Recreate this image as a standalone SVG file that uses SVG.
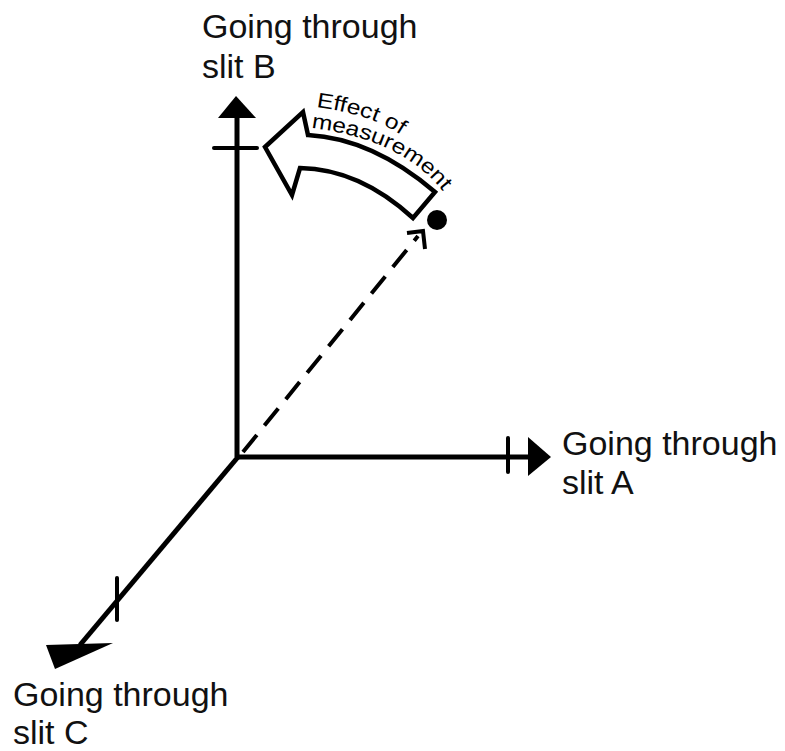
<svg xmlns="http://www.w3.org/2000/svg" width="785" height="751" viewBox="0 0 785 751">
<style>
.ax{stroke:#000;stroke-width:5;fill:none;stroke-linecap:butt}
.tk{stroke:#000;stroke-width:4;fill:none;stroke-linecap:round}
.lbl{font-family:"Liberation Sans",Arial,sans-serif;font-size:34px;fill:#111}
.eff{font-family:"Liberation Sans",Arial,sans-serif;font-size:21px;fill:#000}
</style>
<rect width="785" height="751" fill="#fff"/>
<g id="connectors">
  <line class="ax" x1="237" y1="457" x2="237" y2="115"/>
  <polygon points="236,96 218,118 256,118" fill="#000"/>
  <line class="tk" x1="214" y1="148" x2="257" y2="148"/>
  <line class="ax" x1="235" y1="457" x2="530" y2="457"/>
  <polygon points="528,437 551,457 528,476" fill="#000"/>
  <line class="tk" x1="508" y1="438" x2="508" y2="472"/>
  <line class="ax" x1="238" y1="457" x2="80" y2="645"/>
  <polygon points="46,645 113,643 55,669" fill="#000"/>
  <line class="tk" x1="117" y1="578" x2="117" y2="620"/>
  <line x1="243" y1="452" x2="418" y2="236" stroke="#000" stroke-width="4" stroke-dasharray="22 12"/>
  <polyline points="407,233 423,231 425,249" fill="none" stroke="#000" stroke-width="4" stroke-linejoin="miter"/>
</g>
<g id="point">
  <circle cx="437" cy="220" r="10" fill="#000"/>
</g>
<g id="measurement-arrow">
  <path d="M265,147 L303,112 L308,135 Q372.5,138.5 435,192 L413,218 Q359.5,169 300,168 L292,195 Z" fill="#fff" stroke="#000" stroke-width="4.5" stroke-linejoin="miter"/>
  <path id="p1" d="M316,107 Q370,114 401,135" fill="none"/>
  <path id="p2" d="M311,128 Q400,139 441,189" fill="none"/>
  <text class="eff"><textPath href="#p1" textLength="90" lengthAdjust="spacingAndGlyphs">Effect of</textPath></text>
  <text class="eff"><textPath href="#p2" textLength="150" lengthAdjust="spacingAndGlyphs">measurement</textPath></text>
</g>
<g id="label-b">
  <text class="lbl" x="202" y="38">Going through</text>
  <text class="lbl" x="202" y="78">slit B</text>
</g>
<g id="label-a">
  <text class="lbl" x="562" y="455">Going through</text>
  <text class="lbl" x="562" y="494">slit A</text>
</g>
<g id="label-c">
  <text class="lbl" x="13" y="706">Going through</text>
  <text class="lbl" x="13" y="744">slit C</text>
</g>
</svg>
